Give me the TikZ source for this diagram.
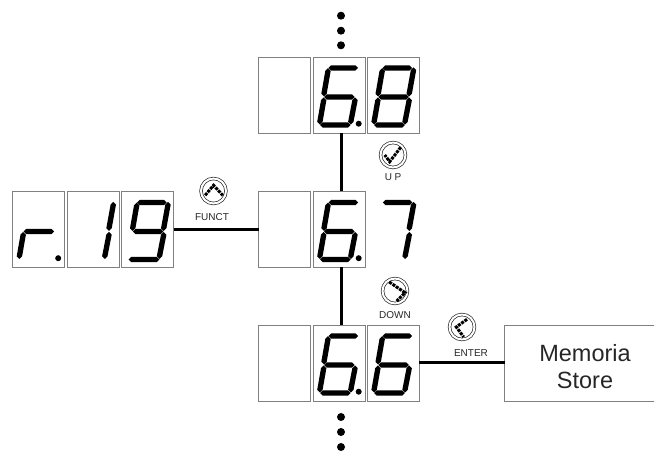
\documentclass[tikz,border=0pt]{standalone}
\usepackage{fontspec}
\setmainfont{Liberation Sans}
\usetikzlibrary{calc}
\definecolor{cellgray}{gray}{0.5}
\definecolor{labelgray}{gray}{0.15}
\tikzset{
	cell/.style={draw=cellgray, line width=0.9pt, minimum width=52, minimum height=76, inner sep=0, outer sep=0},
	storebox/.style={cell, minimum width=161, align=center, text=labelgray, font=\fontsize{23.5}{27.3}\selectfont},
	link/.style={line width=3pt},
	btn/.style={circle, draw=black!85, double, double distance=2pt, line width=0.7pt, minimum size=25, inner sep=0},
	btnlabel/.style={inner sep=0, text=labelgray, font=\fontsize{10}{10}\selectfont},
	chevron/.style={line width=3pt, dash pattern=on 3pt off 1pt},
}
\def\hseg(#1,#2,#3){\fill (#1,#3) -- ({#1+2.7},{#3-2.7}) -- ({#2-2.7},{#3-2.7}) -- (#2,#3) -- ({#2-2.7},{#3+2.7}) -- ({#1+2.7},{#3+2.7}) -- cycle;}
\def\vseg(#1,#2,#3,#4){\fill (#1,#2) -- ({#1+2.7},{#2+2.7}) -- ({#3+2.7},{#4-2.7}) -- (#3,#4) -- ({#3-2.7},{#4-2.7}) -- ({#1-2.7},{#2+2.7}) -- cycle;}
\def\sega{\hseg(15.5,45,11)}
\def\segf{\vseg(15,11.2,11,39.5)}
\def\segb{\vseg(46.3,10.4,42,39.5)}
\def\segg{\hseg(11.2,41.6,40)}
\def\sege{\vseg(10.7,40.5,6.9,67.5)}
\def\segc{\vseg(42,40.5,37.8,67.5)}
\def\segd{\hseg(7,37.6,68)}
\def\segp{\fill (45.7,66.7) circle (3);}
\def\digit(#1)#2{\begin{scope}[shift={(#1.north west)}]\foreach \s in {#2} {\csname seg\s\endcsname}\end{scope}}

\begin{document}
\begin{tikzpicture}[x=1pt, y=-1pt]
		\useasboundingbox (0, 0) rectangle (654, 454);
		\clip (0, 0) rectangle (654, 454);
		
		%%%%% rows of cells %%%%%
		\node[cell] (topa) at (284.5, 95) {};
		\node[cell] (topb) at (339, 95) {};
		\node[cell] (topc) at (393.2, 95) {};
		
		\node[cell] (leftb) at (93, 229.5) {};
		\node[cell] (lefta) at (38.5, 229.5) {};
		\node[cell] (leftc) at (147.7, 229.5) {};
		
		\node[cell] (mida) at (284.5, 229.5) {};
		\node[cell] (midb) at (339, 229.5) {};
		\coordinate (midc) at (367.3, 191.5);
		
		\node[cell] (lowa) at (284.5, 363) {};
		\node[cell] (lowb) at (339, 363) {};
		\node[cell] (lowc) at (393.2, 363) {};
		
		\node[storebox] (store) at (585, 363) {\rule{0pt}{24.8pt}Memoria\\Store};
		
		%%%%% digits %%%%%
		\digit(topb){a,f,g,e,c,d,p}
		\digit(topc){a,b,c,d,e,f,g}
		\digit(lefta){g,e,p}
		\digit(leftb){b,c}
		\digit(leftc){a,b,c,d,f,g}
		\digit(midb){a,f,g,e,c,d,p}
		\digit(midc){a,b,c}
		\digit(lowb){a,f,g,e,c,d,p}
		\digit(lowc){a,f,g,e,c,d}
		
		%%%%% connectors %%%%%
		\draw[link] ($(topb.south)+(2,0)$) -- ($(midb.north)+(2,0)$);
		\draw[link] ($(midb.south)+(2,0)$) -- ($(lowb.north)+(2,0)$);
		\draw[link] (leftc.east) -- (mida.west);
		\draw[link] (lowc.east) -- (store.west);
		
		%%%%% buttons %%%%%
		\node[btn] (funct) at (213.5, 191) {};
		\node[btn] (up) at (393, 155) {};
		\node[btn] (down) at (395, 291) {};
		\node[btn] (enter) at (462, 327) {};
		\draw[chevron, shift={(funct)}] (-8.3, 4.3) -- (0, -5.7) -- (9.3, 4.3);
		\draw[chevron, shift={(up)}] (7.7, -7.7) -- (-3.3, 6.7) -- (-8.3, 0);
		\draw[chevron, shift={(down)}] (-5.7, -9) -- (10, 1.7) -- (1.7, 10);
		\draw[chevron, shift={(enter)}] (5, -7.7) -- (-5.7, 0) -- (1.7, 10);
		
		\node[btnlabel] (functlabel) at (212, 217) {FUNCT};
		\node[btnlabel] (uplabel) at (393, 177) {U\kern2.5pt P};
		\node[btnlabel] (downlabel) at (395, 315) {DOWN};
		\node[btnlabel] (enterlabel) at (471, 353) {ENTER};
		
		%%%%% dots %%%%%
		\foreach \y in {15.7, 30.7, 45.3, 417, 432, 447}
			\fill (341, \y) circle (4);
	\end{tikzpicture}
\end{document}
